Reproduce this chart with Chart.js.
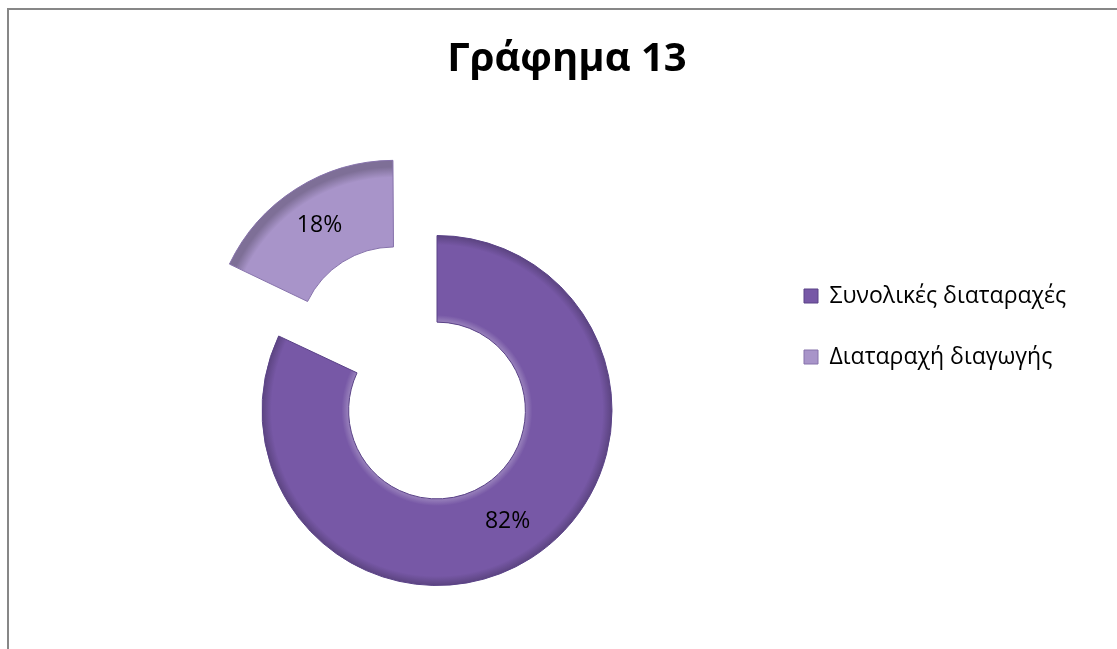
<!DOCTYPE html>
<html>
<head>
<meta charset="utf-8">
<script src="https://cdn.jsdelivr.net/npm/chart.js@4.4.1/dist/chart.umd.min.js"></script>
<style>
  html, body { margin: 0; padding: 0; background: #fff; overflow: hidden; }
  #frame {
    position: absolute; left: 7px; top: 8px;
    width: 1120px; height: 650px;
    border-left: 2px solid #878787; border-top: 2px solid #878787;
  }
  #graficaAnillo { display: block; }
</style>
</head>
<body>
<div id="frame"><canvas id="graficaAnillo" width="1116" height="639"></canvas></div>
<script>
// datos
const categorias = ['Συνολικές διαταραχές', 'Διαταραχή διαγωγής'];
const valores = [82, 18];
const etiquetas = ['82%', '18%'];
const titulo = 'Γράφημα 13';

// estilo
const colores = ['#7758A6', '#A894C9'];
const bordes = ['#5A4287', '#8672AB'];
const fuente = "'Open Sans', 'Noto Sans', sans-serif";
const tamLeyenda = 23;

function aclarar(hex, f) {
  const n = parseInt(hex.slice(1), 16);
  let r = (n >> 16) & 255, g = (n >> 8) & 255, b = n & 255;
  if (f > 0) { r += (255 - r) * f; g += (255 - g) * f; b += (255 - b) * f; }
  else { r *= 1 + f; g *= 1 + f; b *= 1 + f; }
  return `rgb(${Math.round(r)},${Math.round(g)},${Math.round(b)})`;
}

// ancho del texto de la leyenda -> relleno derecho para que la leyenda empiece en x=757
const medir = document.createElement('canvas').getContext('2d');
medir.font = `${tamLeyenda}px ${fuente}`;
const anchoTexto = Math.max(...categorias.map(t => medir.measureText(t).width));
const padDerecha = Math.max(0, 1116 - (757 + 38 + 14 + tamLeyenda / 2 + anchoTexto + 10));

// relleno con gradiente radial (bisel)
function relleno(c) {
  const chart = c.chart;
  const ca = chart.chartArea;
  const ctrl = chart.getDatasetMeta(0).controller;
  const base = colores[c.dataIndex];
  if (!ca || !ctrl || !ctrl.outerRadius) return base;
  const cx = (ca.left + ca.right) / 2;
  const cy = (ca.top + ca.bottom) / 2;
  const g = chart.ctx.createRadialGradient(cx, cy, ctrl.innerRadius, cx, cy, ctrl.outerRadius + 1);
  g.addColorStop(0, aclarar(base, 0.25));
  g.addColorStop(0.08, base);
  g.addColorStop(0.88, base);
  g.addColorStop(1, aclarar(base, -0.25));
  return g;
}

// el título se centra sobre todo el lienzo, no sólo entre los rellenos
const pluginTitulo = {
  id: 'tituloCentrado',
  afterLayout(chart) {
    const t = chart.titleBlock;
    if (!t) return;
    t.left = 0;
    t.right = chart.width;
    t.width = chart.width;
  }
};

// etiquetas de porcentaje en el centro de cada sector
const pluginEtiquetas = {
  id: 'etiquetasPct',
  afterDatasetsDraw(chart) {
    const ctx = chart.ctx;
    const meta = chart.getDatasetMeta(0);
    ctx.save();
    ctx.font = `${tamLeyenda}px ${fuente}`;
    ctx.fillStyle = '#000';
    ctx.textAlign = 'center';
    ctx.textBaseline = 'middle';
    meta.data.forEach((arc, i) => {
      const p = arc.getProps(['x', 'y', 'startAngle', 'endAngle', 'innerRadius', 'outerRadius', 'circumference']);
      const t = (arc.options.offset || 0) / 4;
      const fix = 1 - Math.sin(Math.min(Math.PI, p.circumference || 0));
      const med = (p.startAngle + p.endAngle) / 2;
      const r = (p.innerRadius + p.outerRadius) / 2 + t + t * fix;
      ctx.fillText(etiquetas[i], p.x + Math.cos(med) * r, p.y + Math.sin(med) * r);
    });
    ctx.restore();
  }
};

const ctx = document.getElementById('graficaAnillo').getContext('2d');

const grafica = new Chart(ctx, {
  type: 'doughnut',
  data: {
    labels: categorias,
    datasets: [{
      data: valores,
      backgroundColor: relleno,
      borderColor: bordes,
      borderWidth: 1,
      offset: [0, 320],
      hoverOffset: 0
    }]
  },
  options: {
    responsive: false,
    animation: false,
    events: [],
    radius: 175,
    cutout: '50.5%',
    layout: {
      padding: { left: 99, right: padDerecha, top: 0, bottom: 6 }
    },
    plugins: {
      tooltip: { enabled: false },
      title: {
        display: true,
        text: titulo,
        color: '#000',
        font: { family: fuente, size: 40, weight: 'bold', lineHeight: 1.2 },
        padding: { top: 26, bottom: 94 }
      },
      legend: {
        position: 'right',
        align: 'center',
        labels: {
          color: '#000',
          font: { family: fuente, size: tamLeyenda },
          boxWidth: 14,
          boxHeight: 14,
          padding: 38,
          generateLabels: () => categorias.map((texto, i) => ({
            text: texto,
            fillStyle: colores[i],
            strokeStyle: bordes[i],
            lineWidth: 1,
            hidden: false,
            index: i,
            fontColor: '#000'
          }))
        }
      }
    }
  },
  plugins: [pluginTitulo, pluginEtiquetas]
});
</script>
</body>
</html>
